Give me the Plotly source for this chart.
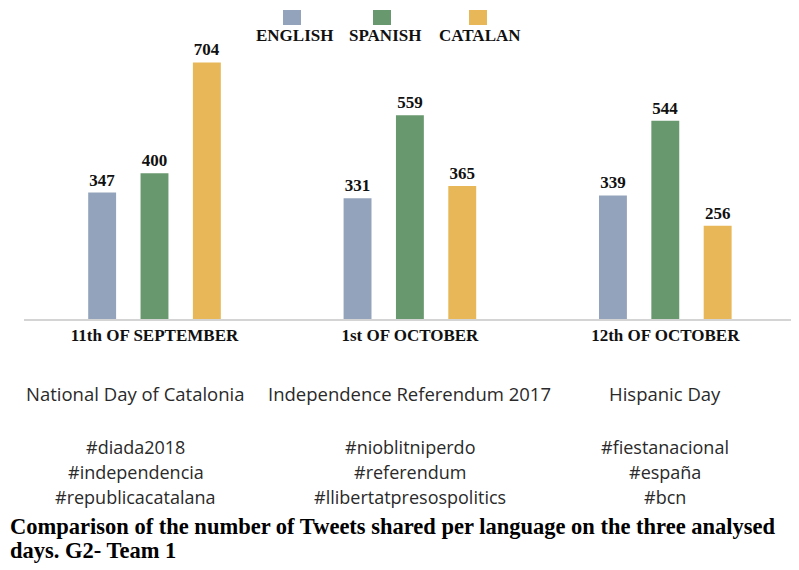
import plotly.graph_objects as go

# ---- data ----
days = ["11th OF SEPTEMBER", "1st OF OCTOBER", "12th OF OCTOBER"]
languages = ["ENGLISH", "SPANISH", "CATALAN"]
english = [347, 331, 339]
spanish = [400, 559, 544]
catalan = [704, 365, 256]
descriptions = ["National Day of Catalonia", "Independence Referendum 2017", "Hispanic Day"]
hashtags = [
    ["#diada2018", "#independencia", "#republicacatalana"],
    ["#nioblitniperdo", "#referendum", "#llibertatpresospolitics"],
    ["#fiestanacional", "#españa", "#bcn"],
]
caption_lines = [
    "Comparison of the number of Tweets shared per language on the three analysed",
    "days. G2- Team 1",
]

colors = ["#94A3BC", "#68986E", "#E8B758"]
series = [english, spanish, catalan]

# page offset (body margin) compensation
OFF = 8
W, H = 799 - OFF, 570 - OFF
L, R = 24 - OFF, 793 - OFF      # plot area left/right px (figure coords)
TOP, BASE = 42 - OFF, 319 - OFF  # plot area top/bottom px (figure coords)
YMAX = 760

def fx(px):
    return (px - OFF - L) / (R - L)

def fy(py):
    return (BASE - (py - OFF)) / (BASE - TOP)

SERIF = "Liberation Serif"
SANS = "Open Sans"

fig = go.Figure()
for name, vals, col in zip(languages, series, colors):
    fig.add_trace(go.Bar(
        x=days, y=vals, name=name,
        marker=dict(color=col, line=dict(width=0)),
        text=vals, texttemplate="<b>%{text}</b>", textposition="outside",
        textfont=dict(family=SERIF, size=17, color="#111111"),
        cliponaxis=False, showlegend=False,
    ))

annotations = []
desc_shift = [-19, 0, 0]
for i, (d, tags) in enumerate(zip(descriptions, hashtags)):
    annotations.append(dict(
        x=i, xref="x", y=fy(393), yref="paper", text=d, showarrow=False,
        xshift=desc_shift[i], xanchor="center", yanchor="middle",
        font=dict(family=SANS, size=18.5, color="#2a2a2a"),
    ))
    for j, t in enumerate(tags):
        annotations.append(dict(
            x=i, xref="x", y=fy(447 + 25 * j), yref="paper", text=t, showarrow=False,
            xshift=desc_shift[i], xanchor="center", yanchor="middle",
            font=dict(family=SANS, size=18, color="#2a2a2a"),
        ))

# caption
for k, line in enumerate(caption_lines):
    annotations.append(dict(
        x=fx(8), xref="paper", y=fy(526 + 24 * k), yref="paper",
        text="<b>" + line + "</b>", showarrow=False,
        xanchor="left", yanchor="middle", align="left",
        font=dict(family=SERIF, size=22.5, color="#000000"),
    ))

# custom legend: squares above labels
legend_sq = [(283, 301), (373, 391), (469, 487)]
legend_txt = [294, 385, 480]
shapes = []
for (x0, x1), tx, name, col in zip(legend_sq, legend_txt, languages, colors):
    shapes.append(dict(type="rect", xref="paper", yref="paper",
                       x0=fx(x0), x1=fx(x1), y0=fy(25), y1=fy(10),
                       fillcolor=col, line=dict(width=0)))
    annotations.append(dict(
        x=fx(tx), xref="paper", y=fy(35), yref="paper", text="<b>" + name + "</b>",
        showarrow=False, xanchor="center", yanchor="middle",
        font=dict(family=SERIF, size=17, color="#111111"),
    ))

fig.update_layout(
    width=W, height=H,
    margin=dict(l=L, r=W - R, t=TOP, b=H - BASE, pad=0),
    paper_bgcolor="white", plot_bgcolor="white",
    barmode="group", bargap=0.385, bargroupgap=0.467,
    annotations=annotations, shapes=shapes,
    xaxis=dict(
        showline=True, linecolor="#D4D4D4", linewidth=1.5,
        showgrid=False, ticks="",
        tickfont=dict(family=SERIF, size=17, color="#111111"),
        tickprefix="<b>", ticksuffix="</b>",
    ),
    yaxis=dict(range=[0, YMAX], visible=False, showgrid=False, zeroline=False),
)

fig.write_html("out.html")
